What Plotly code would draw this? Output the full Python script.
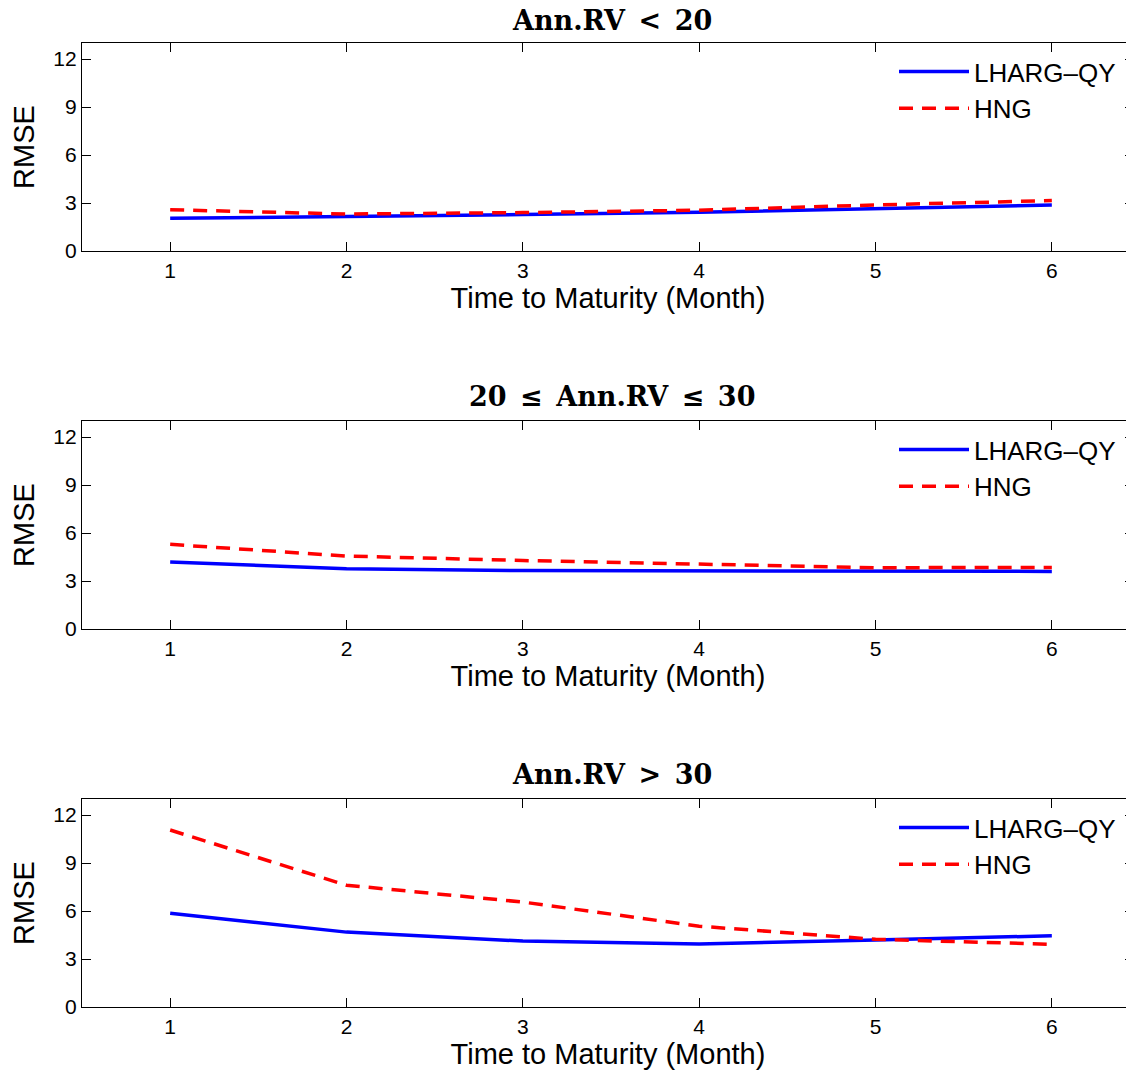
import plotly.graph_objects as go

months = [1, 2, 3, 4, 5, 6]
x_ticks = [1, 2, 3, 4, 5, 6]
y_ticks = [0, 3, 6, 9, 12]

low_lharg = [2.04, 2.14, 2.28, 2.42, 2.65, 2.87]
low_hng = [2.58, 2.31, 2.40, 2.55, 2.88, 3.15]
mid_lharg = [4.19, 3.77, 3.65, 3.63, 3.57, 3.60]
mid_hng = [5.29, 4.56, 4.28, 4.05, 3.83, 3.85]
high_lharg = [5.86, 4.68, 4.12, 3.94, 4.19, 4.45]
high_hng = [11.06, 7.61, 6.56, 5.05, 4.23, 3.92]

SP = "\u2002"
titles = ["Ann.RV" + SP + "<" + SP + "20",
          "20" + SP + "≤" + SP + "Ann.RV" + SP + "≤" + SP + "30",
          "Ann.RV" + SP + ">" + SP + "30"]
series_names = ["LHARG–QY", "HNG"]
panels = [(low_lharg, low_hng), (mid_lharg, mid_hng), (high_lharg, high_hng)]

# page has an 8px body margin: figure is shifted by OFF px
OFF = 8
W, H = 1134 - OFF, 1076 - OFF
boxes = [(43, 251), (421, 629), (799, 1007)]  # page pixels (top, bottom)
title_y = [20, 395, 773]
# the reference axes box runs past the right edge of the image; the visible part
# ends at x ~= 6.466 months
x_range = [0.5, 6.466]


def px(xp):
    return (xp - OFF) / W


def py(yp):
    return 1 - (yp - OFF) / H


fig = go.Figure()
SANS = "Liberation Sans, Arial, sans-serif"

for i, (blue, red) in enumerate(panels):
    n = "" if i == 0 else str(i + 1)
    leg = "legend" if i == 0 else f"legend{i+1}"
    fig.add_trace(go.Scatter(x=months, y=blue, mode="lines", name=series_names[0],
                             line=dict(color="#0000ff", width=3.5),
                             xaxis="x" + n, yaxis="y" + n, legend=leg))
    fig.add_trace(go.Scatter(x=months, y=red, mode="lines", name=series_names[1],
                             line=dict(color="#ff0000", width=3.5, dash="14px,9px"),
                             xaxis="x" + n, yaxis="y" + n, legend=leg))
    top, bot = boxes[i]
    fig.layout["xaxis" + n] = dict(
        domain=[px(82), 1.0], range=x_range, tickvals=x_ticks, anchor="y" + n,
        automargin=False,
        showline=True, linecolor="black", linewidth=1.3, mirror="ticks",
        ticks="inside", ticklen=9, tickcolor="black", tickwidth=1,
        showgrid=False, zeroline=False,
        tickfont=dict(family=SANS, size=21, color="black"),
        ticklabelstandoff=1,
        title=dict(text="Time to Maturity (Month)",
                   font=dict(family=SANS, size=29, color="black"), standoff=4))
    fig.layout["yaxis" + n] = dict(
        domain=[py(bot), py(top)], range=[0, 13], tickvals=y_ticks, anchor="x" + n,
        automargin=False,
        showline=True, linecolor="black", linewidth=1.3, mirror="ticks",
        ticks="inside", ticklen=9, tickcolor="black", tickwidth=1,
        showgrid=False, zeroline=False,
        tickfont=dict(family=SANS, size=21, color="black"),
        title=dict(text="RMSE", font=dict(family=SANS, size=29, color="black"),
                   standoff=14))
    fig.layout[leg] = dict(x=px(894), xanchor="left", y=py(top + 5), yanchor="top",
                           bgcolor="rgba(0,0,0,0)", borderwidth=0,
                           font=dict(family=SANS, size=26, color="black"),
                           itemwidth=70, tracegroupgap=0)
    fig.add_annotation(text="<b>" + titles[i] + "</b>", x=px(612), y=py(title_y[i] + 1),
                       xref="paper", yref="paper", showarrow=False,
                       xanchor="center", yanchor="middle",
                       font=dict(family="DejaVu Serif, serif", size=27, color="black"))

fig.update_layout(width=W, height=H, margin=dict(l=0, r=0, t=0, b=0, pad=0, autoexpand=False),
                  plot_bgcolor="white", paper_bgcolor="white", showlegend=True)

fig.write_html("out.html")
